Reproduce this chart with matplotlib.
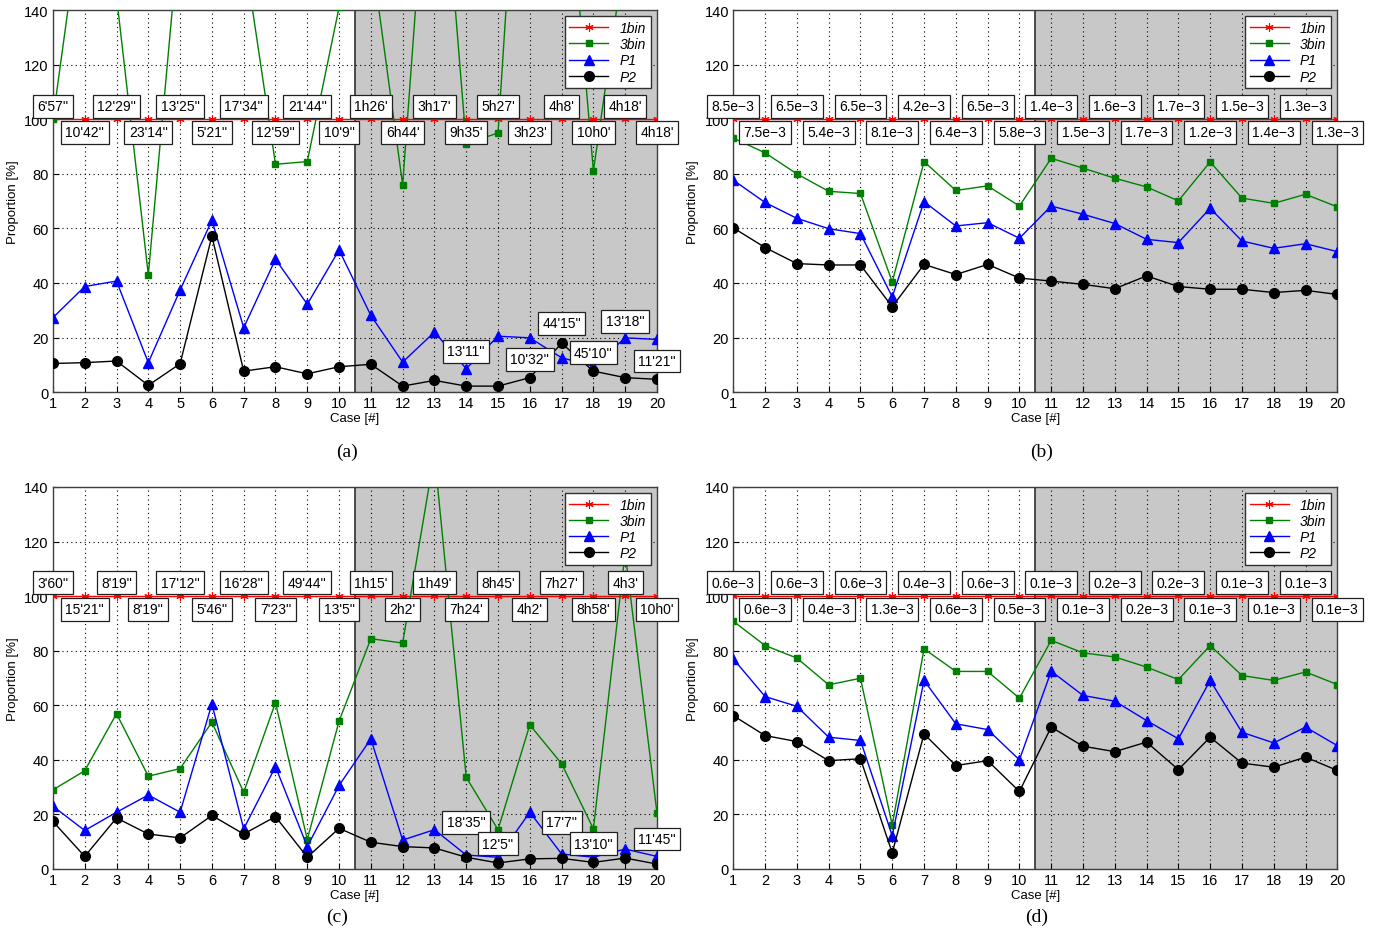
import numpy as np
import matplotlib
matplotlib.use("Agg")
from matplotlib import pyplot as plt

plt.rcParams['font.family'] = ['Liberation Sans', 'DejaVu Sans']

#Case numbers on the x axis
cases = list(range(1, 21))

#1bin is always at 100 %
one_bin = [100, 100, 100, 100, 100, 100, 100, 100, 100, 100,
           100, 100, 100, 100, 100, 100, 100, 100, 100, 100]

#Panel (a)
a_3bin = [100, 185, 145, 43, 172, 180, 162, 83.5, 84.5, 141,
          162, 76, 235, 91, 95, 275, 218, 81, 162, 160]
a_p1 = [27.3, 38.7, 40.7, 10.8, 37.4, 63, 23.6, 48.7, 32.2, 52.1,
        28.1, 11, 22, 8.6, 20.5, 19.9, 12.6, 9.5, 19.9, 19.3]
a_p2 = [10.5, 10.8, 11.4, 2.5, 10.4, 57.2, 7.7, 9.3, 6.7, 9.3,
        10.2, 2.2, 4.3, 2.2, 2.2, 5.3, 17.9, 7.7, 5.3, 4.7]
a_times = ["6'57''", "10'42''", "12'29''", "23'14''", "13'25''", "5'21''", "17'34''",
           "12'59''", "21'44''", "10'9''", "1h26'", "6h44'", "3h17'", "9h35'",
           "5h27'", "3h23'", "4h8'", "10h0'", "4h18'", "4h18'"]
a_note_cases = [14, 16, 17, 18, 19, 20]
a_note_y = [15, 12, 25.2, 14.4, 26, 11.4]
a_note_text = ["13'11''", "10'32''", "44'15''", "45'10''", "13'18''", "11'21''"]

#Panel (b)
b_3bin = [93.1, 87.7, 80, 73.6, 72.8, 40.4, 84.5, 73.9, 75.6, 68.2,
          85.7, 82.1, 78.4, 75.2, 70.1, 84.4, 71.1, 69.2, 72.5, 67.9]
b_p1 = [77.7, 69.5, 63.7, 59.9, 58.1, 34.9, 69.8, 60.9, 62.1, 56.4,
        68.2, 65.2, 61.8, 56, 54.8, 67.4, 55.4, 52.7, 54.4, 51.5]
b_p2 = [60.2, 53, 47.1, 46.6, 46.6, 31.3, 46.8, 43.1, 46.8, 41.8,
        40.7, 39.5, 37.9, 42.6, 38.7, 37.7, 37.7, 36.5, 37.3, 35.8]
b_err = ["8.5e\u22123", "7.5e\u22123", "6.5e\u22123", "5.4e\u22123", "6.5e\u22123",
         "8.1e\u22123", "4.2e\u22123", "6.4e\u22123", "6.5e\u22123", "5.8e\u22123",
         "1.4e\u22123", "1.5e\u22123", "1.6e\u22123", "1.7e\u22123", "1.7e\u22123",
         "1.2e\u22123", "1.5e\u22123", "1.4e\u22123", "1.3e\u22123", "1.3e\u22123"]

#Panel (c)
c_3bin = [29, 36, 56.9, 34, 36.8, 53.8, 28.1, 61, 10.8, 54.2,
          84.4, 82.8, 152, 33.6, 14.4, 52.8, 38.6, 14.7, 116, 20.5]
c_p1 = [23, 14.1, 20.8, 27.1, 20.8, 60.5, 14.7, 37.5, 8.2, 30.6,
        47.7, 10.6, 14.4, 5.1, 4.3, 20.8, 5.5, 4.3, 7.3, 4.6]
c_p2 = [17.4, 4.6, 18.7, 12.8, 11.4, 19.6, 12.8, 19.2, 4.3, 14.9,
        9.8, 8.2, 7.7, 4.3, 2.2, 3.7, 3.9, 2.4, 4, 1.8]
c_times = ["3'60''", "15'21''", "8'19''", "8'19''", "17'12''", "5'46''", "16'28''",
           "7'23''", "49'44''", "13'5''", "1h15'", "2h2'", "1h49'", "7h24'",
           "8h45'", "4h2'", "7h27'", "8h58'", "4h3'", "10h0'"]
c_note_cases = [14, 15, 17, 18, 20]
c_note_y = [17.1, 9.2, 17.1, 9.2, 11]
c_note_text = ["18'35''", "12'5''", "17'7''", "13'10''", "11'45''"]

#Panel (d)
d_3bin = [90.8, 81.9, 77.3, 67.5, 69.9, 16.1, 80.7, 72.4, 72.4, 62.6,
          83.8, 79.2, 77.7, 74, 69.4, 81.9, 70.9, 69.1, 72.2, 67.6]
d_p1 = [77, 63.2, 59.6, 48.3, 47.1, 12.2, 69.1, 53.2, 51.1, 40,
        72.5, 63.6, 61.5, 54.4, 47.7, 69.1, 50.1, 46.2, 52, 45.2]
d_p2 = [56.2, 48.9, 46.7, 39.7, 40.4, 5.9, 49.5, 37.9, 39.7, 28.4,
        52, 45, 43, 46.5, 36.4, 48.3, 38.8, 37.3, 41, 36.1]
d_err = ["0.6e\u22123", "0.6e\u22123", "0.6e\u22123", "0.4e\u22123", "0.6e\u22123",
         "1.3e\u22123", "0.4e\u22123", "0.6e\u22123", "0.6e\u22123", "0.5e\u22123",
         "0.1e\u22123", "0.1e\u22123", "0.2e\u22123", "0.2e\u22123", "0.2e\u22123",
         "0.1e\u22123", "0.1e\u22123", "0.1e\u22123", "0.1e\u22123", "0.1e\u22123"]

box = dict(boxstyle='square,pad=0.32', fc='w', ec='#202020', lw=0.9)


def drawPanel(ax, bin3, p1, p2, tags, notes=None):
    #Grey background for the second half of the cases
    ax.axvspan(10.5, 20, facecolor='#c8c8c8', edgecolor='none', zorder=0)
    ax.axvline(10.5, color='#303030', lw=1.2, zorder=0.5)

    ax.plot(cases, one_bin, color='r', lw=1, marker=(6, 2, 0), ms=6, mew=0.8,
            label='1bin', zorder=3)
    ax.plot(cases, bin3, color='#008000', lw=1, marker='s', ms=5, label='3bin', zorder=3)
    ax.plot(cases, p1, color='b', lw=1, marker='^', ms=7, label='P1', zorder=3)
    ax.plot(cases, p2, color='k', lw=1, marker='o', ms=7, label='P2', zorder=3)

    #Boxed labels on the 100 % line, odd cases above, even cases below
    for c, t in zip(cases, tags):
        off = 9.5 if c % 2 == 1 else -9.5
        ax.annotate(t, (c, 100), xytext=(0, off), textcoords='offset points',
                    ha='center', va='center', fontsize=10, bbox=box, zorder=5,
                    annotation_clip=False)

    if notes is not None:
        for c, y, t in zip(*notes):
            ax.text(c, y, t, ha='center', va='center', fontsize=10, bbox=box, zorder=5)

    ax.set_xlim(1, 20)
    ax.set_ylim(0, 140)
    ax.set_xticks(cases)
    ax.set_yticks(range(0, 141, 20))
    ax.tick_params(direction='in', labelsize=10.5, length=4, pad=3)
    ax.grid(True, color='k', linestyle=(0, (1, 3)), lw=0.8)
    for s in ax.spines.values():
        s.set_color('#404040')
        s.set_linewidth(1)
    ax.set_xlabel('Case [#]', fontsize=9.5, labelpad=1)
    ax.set_ylabel('Proportion [%]', fontsize=9.5, labelpad=4)
    leg = ax.legend(loc='upper right', prop={'style': 'italic', 'size': 10},
                    fancybox=False, edgecolor='#303030', framealpha=1,
                    handlelength=2.8, borderaxespad=0.45, labelspacing=0.15,
                    borderpad=0.35)
    leg.get_frame().set_linewidth(1)


fig = plt.figure(figsize=(13.75, 9.45), dpi=100)
w, h = 0.4393, 0.4042
ax_a = fig.add_axes([0.0385, 0.584, w, h])
ax_b = fig.add_axes([0.5333, 0.584, w, h])
ax_c = fig.add_axes([0.0385, 0.0794, w, h])
ax_d = fig.add_axes([0.5333, 0.0794, w, h])

drawPanel(ax_a, a_3bin, a_p1, a_p2, a_times, (a_note_cases, a_note_y, a_note_text))
drawPanel(ax_b, b_3bin, b_p1, b_p2, b_err)
drawPanel(ax_c, c_3bin, c_p1, c_p2, c_times, (c_note_cases, c_note_y, c_note_text))
drawPanel(ax_d, d_3bin, d_p1, d_p2, d_err)

#Sub-figure captions
cap = dict(ha='center', va='center', fontsize=14, family='Liberation Serif')
fig.text(347/1375, 1 - 452/945, '(a)', **cap)
fig.text(1042/1375, 1 - 452/945, '(b)', **cap)
fig.text(337/1375, 1 - 917/945, '(c)', **cap)
fig.text(1037/1375, 1 - 917/945, '(d)', **cap)

plt.savefig('out.png', dpi=100)
